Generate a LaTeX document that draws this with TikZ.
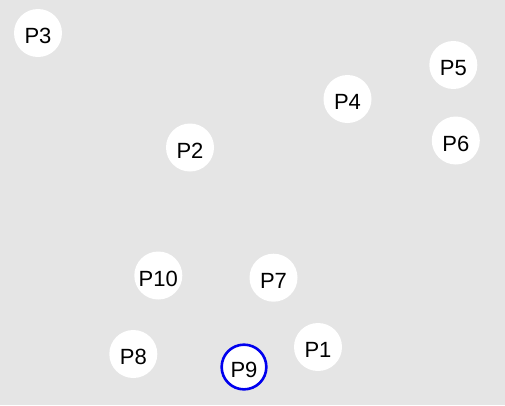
\documentclass[tikz,border=0pt]{standalone}
\usepackage{fontspec}
\setmainfont{Liberation Sans}
\definecolor{bg}{HTML}{E5E5E5}
\definecolor{ringblue}{HTML}{0000EE}
\begin{document}
\begin{tikzpicture}[x=1pt,y=-1pt,
  pnode/.style={circle,fill=white,minimum size=48pt,inner sep=0pt,
    font=\fontsize{22}{22}\selectfont,text height=21.75pt,text depth=0pt},
  selnode/.style={pnode,draw=ringblue,line width=2.6pt,minimum size=44.7pt}]
\fill[bg] (0,0) rectangle (505,405);
\useasboundingbox (0,0) rectangle (505,405);
\node[pnode] (p3) at (38,33) {P3};
\node[pnode] (p5) at (453.3,65) {P5};
\node[pnode] (p4) at (347.5,99) {P4};
\node[pnode] (p6) at (455.8,140.5) {P6};
\node[pnode] (p2) at (190,147.5) {P2};
\node[pnode] (p10) at (158.3,275.5) {P10};
\node[pnode] (p7) at (273.5,277.7) {P7};
\node[pnode] (p1) at (318,347) {P1};
\node[pnode] (p8) at (133.3,354) {P8};
\node[selnode] (p9) at (244,367) {P9};
\end{tikzpicture}
\end{document}
